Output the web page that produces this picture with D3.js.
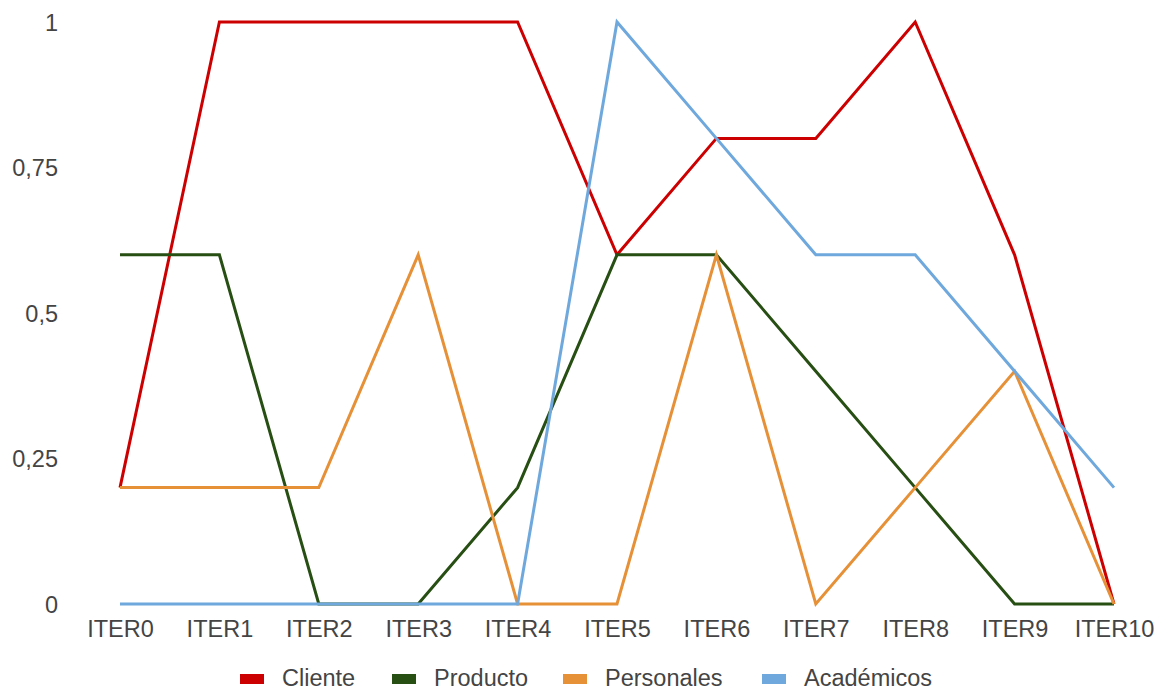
<!DOCTYPE html>
<html>
<head>
<meta charset="utf-8">
<script src="https://cdn.jsdelivr.net/npm/d3@7"></script>
<style>
  html, body { margin: 0; padding: 0; background: #fff; }
  svg text { font-family: "Liberation Sans", Arial, sans-serif; fill: #444; }
</style>
</head>
<body>
<svg id="chart" width="1162" height="691"></svg>
<script>
// Iterations along the x axis
const categories = ["ITER0","ITER1","ITER2","ITER3","ITER4","ITER5","ITER6","ITER7","ITER8","ITER9","ITER10"];

// Series values per iteration
const cliente    = [0.2, 1, 1, 1, 1, 0.6, 0.8, 0.8, 1, 0.6, 0];
const producto   = [0.6, 0.6, 0, 0, 0.2, 0.6, 0.6, 0.4, 0.2, 0, 0];
const personales = [0.2, 0.2, 0.2, 0.6, 0, 0, 0.6, 0, 0.2, 0.4, 0];
const academicos = [0, 0, 0, 0, 0, 1, 0.8, 0.6, 0.6, 0.4, 0.2];

const seriesNames = ["Cliente", "Producto", "Personales", "Académicos"];
const yTicks = [0, 0.25, 0.5, 0.75, 1];

const seriesValues = [cliente, producto, personales, academicos];
const colors = ["#cc0000", "#274e13", "#e69138", "#6fa8dc"];

const FONT = 23.5;
const svg = d3.select("#chart");

const x = d3.scalePoint().domain(categories).range([120, 1114]);
const y = d3.scaleLinear().domain([0, 1]).range([604, 22]);

const fmt = v => String(v).replace(".", ",");

// Y axis labels (no line, no ticks)
const yAxis = svg.append("g")
  .attr("transform", "translate(58,0)")
  .call(d3.axisLeft(y).tickValues(yTicks).tickFormat(fmt).tickSize(0).tickPadding(0));
yAxis.select(".domain").remove();
yAxis.selectAll("text")
  .attr("font-size", FONT)
  .attr("font-family", null)
  .attr("dy", "0.35em");

// X axis labels
const xAxis = svg.append("g")
  .attr("transform", "translate(0,604)")
  .call(d3.axisBottom(x).tickSize(0).tickPadding(0));
xAxis.select(".domain").remove();
xAxis.selectAll("text")
  .attr("font-size", FONT)
  .attr("font-family", null)
  .attr("dy", null)
  .attr("y", 33);

// Lines
const line = d3.line()
  .x((d, i) => x(categories[i]))
  .y(d => y(d));

svg.append("g")
  .selectAll("path")
  .data(seriesValues)
  .join("path")
  .attr("d", line)
  .attr("fill", "none")
  .attr("stroke", (d, i) => colors[i])
  .attr("stroke-width", 3)
  .attr("stroke-linejoin", "miter")
  .attr("stroke-linecap", "butt");

// Legend
const legendX = [240, 392, 563, 762];
const legend = svg.append("g")
  .selectAll("g")
  .data(seriesNames)
  .join("g")
  .attr("transform", (d, i) => `translate(${legendX[i]},679)`);

legend.append("rect")
  .attr("x", 0).attr("y", -5)
  .attr("width", 24).attr("height", 10)
  .attr("fill", (d, i) => colors[i]);

legend.append("text")
  .attr("x", 42)
  .attr("y", 7)
  .attr("font-size", FONT)
  .text(d => d);
</script>
</body>
</html>
